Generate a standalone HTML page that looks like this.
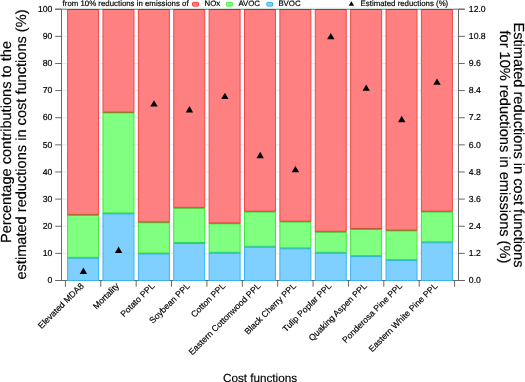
<!DOCTYPE html>
<html><head><meta charset="utf-8"><style>
html,body{margin:0;padding:0;background:#fff;}
body{width:525px;height:382px;overflow:hidden;position:relative;font-family:"Liberation Sans",sans-serif;}
</style></head><body>
<svg width="525" height="382" viewBox="0 0 525 382" style="position:absolute;left:0;top:0;filter:blur(0.22px);text-rendering:geometricPrecision"><line x1="62" y1="253.37" x2="458" y2="253.37" stroke="#e6e6fa" stroke-width="1"/><line x1="62" y1="226.24" x2="458" y2="226.24" stroke="#e6e6fa" stroke-width="1"/><line x1="62" y1="199.11" x2="458" y2="199.11" stroke="#e6e6fa" stroke-width="1"/><line x1="62" y1="171.98" x2="458" y2="171.98" stroke="#e6e6fa" stroke-width="1"/><line x1="62" y1="144.85" x2="458" y2="144.85" stroke="#e6e6fa" stroke-width="1"/><line x1="62" y1="117.72" x2="458" y2="117.72" stroke="#e6e6fa" stroke-width="1"/><line x1="62" y1="90.59" x2="458" y2="90.59" stroke="#e6e6fa" stroke-width="1"/><line x1="62" y1="63.46" x2="458" y2="63.46" stroke="#e6e6fa" stroke-width="1"/><line x1="62" y1="36.33" x2="458" y2="36.33" stroke="#e6e6fa" stroke-width="1"/><line x1="55.2" y1="9.2" x2="464.8" y2="9.2" stroke="#676767" stroke-width="1"/><line x1="55.2" y1="280.5" x2="464.8" y2="280.5" stroke="#676767" stroke-width="1"/><rect x="67.60" y="9.50" width="31.00" height="204.90" fill="#ff8080" stroke="#f24848" stroke-width="1"/><rect x="67.60" y="215.40" width="31.00" height="41.90" fill="#80ff80" stroke="#3ee83e" stroke-width="1"/><rect x="67.60" y="258.30" width="31.00" height="22.20" fill="#80d0ff" stroke="#38b4f2" stroke-width="1"/><line x1="67.40" y1="9.5" x2="98.80" y2="9.5" stroke="#c62222" stroke-width="1"/><line x1="67.40" y1="214.90" x2="98.80" y2="214.90" stroke="#8a6a14" stroke-width="0.9" opacity="0.85"/><line x1="67.40" y1="257.80" x2="98.80" y2="257.80" stroke="#22c0a0" stroke-width="0.9" opacity="0.9"/><rect x="102.98" y="9.50" width="31.00" height="102.50" fill="#ff8080" stroke="#f24848" stroke-width="1"/><rect x="102.98" y="113.00" width="31.00" height="99.90" fill="#80ff80" stroke="#3ee83e" stroke-width="1"/><rect x="102.98" y="213.90" width="31.00" height="66.60" fill="#80d0ff" stroke="#38b4f2" stroke-width="1"/><line x1="102.78" y1="9.5" x2="134.18" y2="9.5" stroke="#c62222" stroke-width="1"/><line x1="102.78" y1="112.50" x2="134.18" y2="112.50" stroke="#8a6a14" stroke-width="0.9" opacity="0.85"/><line x1="102.78" y1="213.40" x2="134.18" y2="213.40" stroke="#22c0a0" stroke-width="0.9" opacity="0.9"/><rect x="138.36" y="9.50" width="31.00" height="212.30" fill="#ff8080" stroke="#f24848" stroke-width="1"/><rect x="138.36" y="222.80" width="31.00" height="30.20" fill="#80ff80" stroke="#3ee83e" stroke-width="1"/><rect x="138.36" y="254.00" width="31.00" height="26.50" fill="#80d0ff" stroke="#38b4f2" stroke-width="1"/><line x1="138.16" y1="9.5" x2="169.56" y2="9.5" stroke="#c62222" stroke-width="1"/><line x1="138.16" y1="222.30" x2="169.56" y2="222.30" stroke="#8a6a14" stroke-width="0.9" opacity="0.85"/><line x1="138.16" y1="253.50" x2="169.56" y2="253.50" stroke="#22c0a0" stroke-width="0.9" opacity="0.9"/><rect x="173.74" y="9.50" width="31.00" height="197.80" fill="#ff8080" stroke="#f24848" stroke-width="1"/><rect x="173.74" y="208.30" width="31.00" height="34.20" fill="#80ff80" stroke="#3ee83e" stroke-width="1"/><rect x="173.74" y="243.50" width="31.00" height="37.00" fill="#80d0ff" stroke="#38b4f2" stroke-width="1"/><line x1="173.54" y1="9.5" x2="204.94" y2="9.5" stroke="#c62222" stroke-width="1"/><line x1="173.54" y1="207.80" x2="204.94" y2="207.80" stroke="#8a6a14" stroke-width="0.9" opacity="0.85"/><line x1="173.54" y1="243.00" x2="204.94" y2="243.00" stroke="#22c0a0" stroke-width="0.9" opacity="0.9"/><rect x="209.12" y="9.50" width="31.00" height="213.40" fill="#ff8080" stroke="#f24848" stroke-width="1"/><rect x="209.12" y="223.90" width="31.00" height="28.40" fill="#80ff80" stroke="#3ee83e" stroke-width="1"/><rect x="209.12" y="253.30" width="31.00" height="27.20" fill="#80d0ff" stroke="#38b4f2" stroke-width="1"/><line x1="208.92" y1="9.5" x2="240.32" y2="9.5" stroke="#c62222" stroke-width="1"/><line x1="208.92" y1="223.40" x2="240.32" y2="223.40" stroke="#8a6a14" stroke-width="0.9" opacity="0.85"/><line x1="208.92" y1="252.80" x2="240.32" y2="252.80" stroke="#22c0a0" stroke-width="0.9" opacity="0.9"/><rect x="244.50" y="9.50" width="31.00" height="201.60" fill="#ff8080" stroke="#f24848" stroke-width="1"/><rect x="244.50" y="212.10" width="31.00" height="34.20" fill="#80ff80" stroke="#3ee83e" stroke-width="1"/><rect x="244.50" y="247.30" width="31.00" height="33.20" fill="#80d0ff" stroke="#38b4f2" stroke-width="1"/><line x1="244.30" y1="9.5" x2="275.70" y2="9.5" stroke="#c62222" stroke-width="1"/><line x1="244.30" y1="211.60" x2="275.70" y2="211.60" stroke="#8a6a14" stroke-width="0.9" opacity="0.85"/><line x1="244.30" y1="246.80" x2="275.70" y2="246.80" stroke="#22c0a0" stroke-width="0.9" opacity="0.9"/><rect x="279.88" y="9.50" width="31.00" height="211.60" fill="#ff8080" stroke="#f24848" stroke-width="1"/><rect x="279.88" y="222.10" width="31.00" height="25.70" fill="#80ff80" stroke="#3ee83e" stroke-width="1"/><rect x="279.88" y="248.80" width="31.00" height="31.70" fill="#80d0ff" stroke="#38b4f2" stroke-width="1"/><line x1="279.68" y1="9.5" x2="311.08" y2="9.5" stroke="#c62222" stroke-width="1"/><line x1="279.68" y1="221.60" x2="311.08" y2="221.60" stroke="#8a6a14" stroke-width="0.9" opacity="0.85"/><line x1="279.68" y1="248.30" x2="311.08" y2="248.30" stroke="#22c0a0" stroke-width="0.9" opacity="0.9"/><rect x="315.26" y="9.50" width="31.00" height="221.80" fill="#ff8080" stroke="#f24848" stroke-width="1"/><rect x="315.26" y="232.30" width="31.00" height="20.00" fill="#80ff80" stroke="#3ee83e" stroke-width="1"/><rect x="315.26" y="253.30" width="31.00" height="27.20" fill="#80d0ff" stroke="#38b4f2" stroke-width="1"/><line x1="315.06" y1="9.5" x2="346.46" y2="9.5" stroke="#c62222" stroke-width="1"/><line x1="315.06" y1="231.80" x2="346.46" y2="231.80" stroke="#8a6a14" stroke-width="0.9" opacity="0.85"/><line x1="315.06" y1="252.80" x2="346.46" y2="252.80" stroke="#22c0a0" stroke-width="0.9" opacity="0.9"/><rect x="350.64" y="9.50" width="31.00" height="219.00" fill="#ff8080" stroke="#f24848" stroke-width="1"/><rect x="350.64" y="229.50" width="31.00" height="26.10" fill="#80ff80" stroke="#3ee83e" stroke-width="1"/><rect x="350.64" y="256.60" width="31.00" height="23.90" fill="#80d0ff" stroke="#38b4f2" stroke-width="1"/><line x1="350.44" y1="9.5" x2="381.84" y2="9.5" stroke="#c62222" stroke-width="1"/><line x1="350.44" y1="229.00" x2="381.84" y2="229.00" stroke="#8a6a14" stroke-width="0.9" opacity="0.85"/><line x1="350.44" y1="256.10" x2="381.84" y2="256.10" stroke="#22c0a0" stroke-width="0.9" opacity="0.9"/><rect x="386.02" y="9.50" width="31.00" height="220.50" fill="#ff8080" stroke="#f24848" stroke-width="1"/><rect x="386.02" y="231.00" width="31.00" height="28.60" fill="#80ff80" stroke="#3ee83e" stroke-width="1"/><rect x="386.02" y="260.60" width="31.00" height="19.90" fill="#80d0ff" stroke="#38b4f2" stroke-width="1"/><line x1="385.82" y1="9.5" x2="417.22" y2="9.5" stroke="#c62222" stroke-width="1"/><line x1="385.82" y1="230.50" x2="417.22" y2="230.50" stroke="#8a6a14" stroke-width="0.9" opacity="0.85"/><line x1="385.82" y1="260.10" x2="417.22" y2="260.10" stroke="#22c0a0" stroke-width="0.9" opacity="0.9"/><rect x="421.40" y="9.50" width="31.00" height="201.60" fill="#ff8080" stroke="#f24848" stroke-width="1"/><rect x="421.40" y="212.10" width="31.00" height="29.70" fill="#80ff80" stroke="#3ee83e" stroke-width="1"/><rect x="421.40" y="242.80" width="31.00" height="37.70" fill="#80d0ff" stroke="#38b4f2" stroke-width="1"/><line x1="421.20" y1="9.5" x2="452.60" y2="9.5" stroke="#c62222" stroke-width="1"/><line x1="421.20" y1="211.60" x2="452.60" y2="211.60" stroke="#8a6a14" stroke-width="0.9" opacity="0.85"/><line x1="421.20" y1="242.30" x2="452.60" y2="242.30" stroke="#22c0a0" stroke-width="0.9" opacity="0.9"/><line x1="67" y1="8.1" x2="453" y2="8.1" stroke="#dcf4f4" stroke-width="1"/><line x1="61.5" y1="9.2" x2="61.5" y2="280.5" stroke="#676767" stroke-width="1"/><line x1="458.5" y1="9.2" x2="458.5" y2="280.5" stroke="#676767" stroke-width="1"/><line x1="55.2" y1="280.50" x2="61.5" y2="280.50" stroke="#676767" stroke-width="1"/><line x1="458.5" y1="280.50" x2="464.8" y2="280.50" stroke="#676767" stroke-width="1"/><text x="52.4" y="283.20" text-anchor="end" font-size="8.7" font-family="Liberation Sans, sans-serif" stroke="#000" stroke-width="0.18">0</text><text x="468.8" y="283.20" font-size="8.7" font-family="Liberation Sans, sans-serif" stroke="#000" stroke-width="0.18">0.0</text><line x1="55.2" y1="253.37" x2="61.5" y2="253.37" stroke="#676767" stroke-width="1"/><line x1="458.5" y1="253.37" x2="464.8" y2="253.37" stroke="#676767" stroke-width="1"/><text x="52.4" y="256.07" text-anchor="end" font-size="8.7" font-family="Liberation Sans, sans-serif" stroke="#000" stroke-width="0.18">10</text><text x="468.8" y="256.07" font-size="8.7" font-family="Liberation Sans, sans-serif" stroke="#000" stroke-width="0.18">1.2</text><line x1="55.2" y1="226.24" x2="61.5" y2="226.24" stroke="#676767" stroke-width="1"/><line x1="458.5" y1="226.24" x2="464.8" y2="226.24" stroke="#676767" stroke-width="1"/><text x="52.4" y="228.94" text-anchor="end" font-size="8.7" font-family="Liberation Sans, sans-serif" stroke="#000" stroke-width="0.18">20</text><text x="468.8" y="228.94" font-size="8.7" font-family="Liberation Sans, sans-serif" stroke="#000" stroke-width="0.18">2.4</text><line x1="55.2" y1="199.11" x2="61.5" y2="199.11" stroke="#676767" stroke-width="1"/><line x1="458.5" y1="199.11" x2="464.8" y2="199.11" stroke="#676767" stroke-width="1"/><text x="52.4" y="201.81" text-anchor="end" font-size="8.7" font-family="Liberation Sans, sans-serif" stroke="#000" stroke-width="0.18">30</text><text x="468.8" y="201.81" font-size="8.7" font-family="Liberation Sans, sans-serif" stroke="#000" stroke-width="0.18">3.6</text><line x1="55.2" y1="171.98" x2="61.5" y2="171.98" stroke="#676767" stroke-width="1"/><line x1="458.5" y1="171.98" x2="464.8" y2="171.98" stroke="#676767" stroke-width="1"/><text x="52.4" y="174.68" text-anchor="end" font-size="8.7" font-family="Liberation Sans, sans-serif" stroke="#000" stroke-width="0.18">40</text><text x="468.8" y="174.68" font-size="8.7" font-family="Liberation Sans, sans-serif" stroke="#000" stroke-width="0.18">4.8</text><line x1="55.2" y1="144.85" x2="61.5" y2="144.85" stroke="#676767" stroke-width="1"/><line x1="458.5" y1="144.85" x2="464.8" y2="144.85" stroke="#676767" stroke-width="1"/><text x="52.4" y="147.55" text-anchor="end" font-size="8.7" font-family="Liberation Sans, sans-serif" stroke="#000" stroke-width="0.18">50</text><text x="468.8" y="147.55" font-size="8.7" font-family="Liberation Sans, sans-serif" stroke="#000" stroke-width="0.18">6.0</text><line x1="55.2" y1="117.72" x2="61.5" y2="117.72" stroke="#676767" stroke-width="1"/><line x1="458.5" y1="117.72" x2="464.8" y2="117.72" stroke="#676767" stroke-width="1"/><text x="52.4" y="120.42" text-anchor="end" font-size="8.7" font-family="Liberation Sans, sans-serif" stroke="#000" stroke-width="0.18">60</text><text x="468.8" y="120.42" font-size="8.7" font-family="Liberation Sans, sans-serif" stroke="#000" stroke-width="0.18">7.2</text><line x1="55.2" y1="90.59" x2="61.5" y2="90.59" stroke="#676767" stroke-width="1"/><line x1="458.5" y1="90.59" x2="464.8" y2="90.59" stroke="#676767" stroke-width="1"/><text x="52.4" y="93.29" text-anchor="end" font-size="8.7" font-family="Liberation Sans, sans-serif" stroke="#000" stroke-width="0.18">70</text><text x="468.8" y="93.29" font-size="8.7" font-family="Liberation Sans, sans-serif" stroke="#000" stroke-width="0.18">8.4</text><line x1="55.2" y1="63.46" x2="61.5" y2="63.46" stroke="#676767" stroke-width="1"/><line x1="458.5" y1="63.46" x2="464.8" y2="63.46" stroke="#676767" stroke-width="1"/><text x="52.4" y="66.16" text-anchor="end" font-size="8.7" font-family="Liberation Sans, sans-serif" stroke="#000" stroke-width="0.18">80</text><text x="468.8" y="66.16" font-size="8.7" font-family="Liberation Sans, sans-serif" stroke="#000" stroke-width="0.18">9.6</text><line x1="55.2" y1="36.33" x2="61.5" y2="36.33" stroke="#676767" stroke-width="1"/><line x1="458.5" y1="36.33" x2="464.8" y2="36.33" stroke="#676767" stroke-width="1"/><text x="52.4" y="39.03" text-anchor="end" font-size="8.7" font-family="Liberation Sans, sans-serif" stroke="#000" stroke-width="0.18">90</text><text x="468.8" y="39.03" font-size="8.7" font-family="Liberation Sans, sans-serif" stroke="#000" stroke-width="0.18">10.8</text><line x1="55.2" y1="9.20" x2="61.5" y2="9.20" stroke="#676767" stroke-width="1"/><line x1="458.5" y1="9.20" x2="464.8" y2="9.20" stroke="#676767" stroke-width="1"/><text x="52.4" y="11.90" text-anchor="end" font-size="8.7" font-family="Liberation Sans, sans-serif" stroke="#000" stroke-width="0.18">100</text><text x="468.8" y="11.90" font-size="8.7" font-family="Liberation Sans, sans-serif" stroke="#000" stroke-width="0.18">12.0</text><line x1="65.40" y1="280.5" x2="65.40" y2="286.8" stroke="#676767" stroke-width="1"/><line x1="100.78" y1="280.5" x2="100.78" y2="286.8" stroke="#676767" stroke-width="1"/><line x1="136.16" y1="280.5" x2="136.16" y2="286.8" stroke="#676767" stroke-width="1"/><line x1="171.54" y1="280.5" x2="171.54" y2="286.8" stroke="#676767" stroke-width="1"/><line x1="206.92" y1="280.5" x2="206.92" y2="286.8" stroke="#676767" stroke-width="1"/><line x1="242.30" y1="280.5" x2="242.30" y2="286.8" stroke="#676767" stroke-width="1"/><line x1="277.68" y1="280.5" x2="277.68" y2="286.8" stroke="#676767" stroke-width="1"/><line x1="313.06" y1="280.5" x2="313.06" y2="286.8" stroke="#676767" stroke-width="1"/><line x1="348.44" y1="280.5" x2="348.44" y2="286.8" stroke="#676767" stroke-width="1"/><line x1="383.82" y1="280.5" x2="383.82" y2="286.8" stroke="#676767" stroke-width="1"/><line x1="419.20" y1="280.5" x2="419.20" y2="286.8" stroke="#676767" stroke-width="1"/><line x1="454.58" y1="280.5" x2="454.58" y2="286.8" stroke="#676767" stroke-width="1"/><path d="M79.70,274.00 L87.10,274.00 L83.40,267.60 Z" fill="#000"/><path d="M114.90,252.90 L122.30,252.90 L118.60,246.50 Z" fill="#000"/><path d="M150.30,106.60 L157.70,106.60 L154.00,100.20 Z" fill="#000"/><path d="M185.70,112.40 L193.10,112.40 L189.40,106.00 Z" fill="#000"/><path d="M221.20,99.10 L228.60,99.10 L224.90,92.70 Z" fill="#000"/><path d="M256.50,158.20 L263.90,158.20 L260.20,151.80 Z" fill="#000"/><path d="M291.70,172.30 L299.10,172.30 L295.40,165.90 Z" fill="#000"/><path d="M327.10,39.30 L334.50,39.30 L330.80,32.90 Z" fill="#000"/><path d="M362.50,90.80 L369.90,90.80 L366.20,84.40 Z" fill="#000"/><path d="M398.00,122.20 L405.40,122.20 L401.70,115.80 Z" fill="#000"/><path d="M433.30,84.80 L440.70,84.80 L437.00,78.40 Z" fill="#000"/><text x="84.30" y="286.50" text-anchor="end" font-size="8.7" font-family="Liberation Sans, sans-serif" stroke="#000" stroke-width="0.18" transform="rotate(-45 84.30 286.50)">Elevated MDA8</text><text x="119.68" y="286.50" text-anchor="end" font-size="8.7" font-family="Liberation Sans, sans-serif" stroke="#000" stroke-width="0.18" transform="rotate(-45 119.68 286.50)">Mortality</text><text x="155.06" y="286.50" text-anchor="end" font-size="8.7" font-family="Liberation Sans, sans-serif" stroke="#000" stroke-width="0.18" transform="rotate(-45 155.06 286.50)">Potato PPL</text><text x="190.44" y="286.50" text-anchor="end" font-size="8.7" font-family="Liberation Sans, sans-serif" stroke="#000" stroke-width="0.18" transform="rotate(-45 190.44 286.50)">Soybean PPL</text><text x="225.82" y="286.50" text-anchor="end" font-size="8.7" font-family="Liberation Sans, sans-serif" stroke="#000" stroke-width="0.18" transform="rotate(-45 225.82 286.50)">Cotton PPL</text><text x="261.20" y="286.50" text-anchor="end" font-size="8.7" font-family="Liberation Sans, sans-serif" stroke="#000" stroke-width="0.18" transform="rotate(-45 261.20 286.50)">Eastern Cottonwood PPL</text><text x="296.58" y="286.50" text-anchor="end" font-size="8.7" font-family="Liberation Sans, sans-serif" stroke="#000" stroke-width="0.18" transform="rotate(-45 296.58 286.50)">Black Cherry PPL</text><text x="331.96" y="286.50" text-anchor="end" font-size="8.7" font-family="Liberation Sans, sans-serif" stroke="#000" stroke-width="0.18" transform="rotate(-45 331.96 286.50)">Tulip Poplar PPL</text><text x="367.34" y="286.50" text-anchor="end" font-size="8.7" font-family="Liberation Sans, sans-serif" stroke="#000" stroke-width="0.18" transform="rotate(-45 367.34 286.50)">Quaking Aspen PPL</text><text x="402.72" y="286.50" text-anchor="end" font-size="8.7" font-family="Liberation Sans, sans-serif" stroke="#000" stroke-width="0.18" transform="rotate(-45 402.72 286.50)">Ponderosa Pine PPL</text><text x="438.10" y="286.50" text-anchor="end" font-size="8.7" font-family="Liberation Sans, sans-serif" stroke="#000" stroke-width="0.18" transform="rotate(-45 438.10 286.50)">Eastern White Pine PPL</text><text x="62.6" y="6.1" font-size="7.85" font-family="Liberation Sans, sans-serif" stroke="#000" stroke-width="0.18">from 10% reductions in emissions of</text><rect x="192.60" y="2.4" width="5.90" height="3.7" rx="0.6" fill="#ff8080" stroke="#ff3c3c" stroke-width="1"/><text x="204.5" y="6.1" font-size="7.85" font-family="Liberation Sans, sans-serif" stroke="#000" stroke-width="0.18">NOx</text><rect x="226.30" y="2.4" width="6.10" height="3.7" rx="0.6" fill="#80ff80" stroke="#44ee44" stroke-width="1"/><text x="238.4" y="6.1" font-size="7.85" font-family="Liberation Sans, sans-serif" stroke="#000" stroke-width="0.18">AVOC</text><rect x="266.90" y="2.4" width="5.60" height="3.7" rx="0.6" fill="#80d0ff" stroke="#33b0f0" stroke-width="1"/><text x="278.4" y="6.1" font-size="7.85" font-family="Liberation Sans, sans-serif" stroke="#000" stroke-width="0.18">BVOC</text><path d="M348.70,5.85 L354.10,5.85 L351.40,1.35 Z" fill="#000"/><text x="360.6" y="6.1" font-size="7.85" font-family="Liberation Sans, sans-serif" stroke="#000" stroke-width="0.18">Estimated reductions (%)</text><text x="260" y="381.6" text-anchor="middle" font-size="11.7" font-family="Liberation Sans, sans-serif" stroke="#000" stroke-width="0.18">Cost functions</text><text transform="translate(11.2 142) rotate(-90)" text-anchor="middle" font-size="14.6" font-family="Liberation Sans, sans-serif" stroke="#000" stroke-width="0.18">Percentage contributions to the</text><text transform="translate(25.8 144.5) rotate(-90)" text-anchor="middle" font-size="14.6" font-family="Liberation Sans, sans-serif" stroke="#000" stroke-width="0.18">estimated reductions in cost functions (%)</text><text transform="translate(514.4 145) rotate(90)" text-anchor="middle" font-size="14.6" font-family="Liberation Sans, sans-serif" stroke="#000" stroke-width="0.18">Estimated reductions in cost functions</text><text transform="translate(499.7 146.9) rotate(90)" text-anchor="middle" font-size="14.6" font-family="Liberation Sans, sans-serif" stroke="#000" stroke-width="0.18">for 10% reductions in emissions (%)</text></svg>
</body></html>
